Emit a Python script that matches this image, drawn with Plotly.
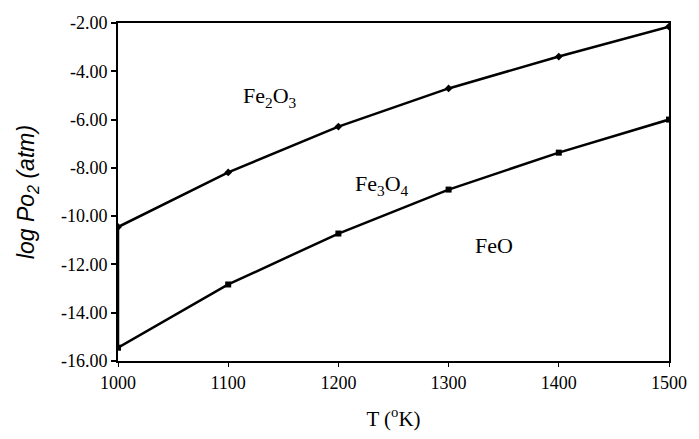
import plotly.graph_objects as go

temps = [1000, 1100, 1200, 1300, 1400, 1500]
fe2o3_fe3o4 = [-10.45, -8.19, -6.29, -4.71, -3.39, -2.15]
fe3o4_feo = [-15.45, -12.83, -10.72, -8.90, -7.37, -6.00]
y_ticks = [-16, -14, -12, -10, -8, -6, -4, -2]
x_ticks = [1000, 1100, 1200, 1300, 1400, 1500]
phase_labels = ["Fe<sub>2</sub>O<sub>3</sub>", "Fe<sub>3</sub>O<sub>4</sub>", "FeO"]
phase_x = [1138, 1240, 1341]
phase_y = [-5.05, -8.70, -11.20]

serif = "Liberation Serif, Times New Roman, serif"

fig = go.Figure()
fig.add_trace(go.Scatter(x=temps, y=fe2o3_fe3o4, mode="lines+markers",
                         line=dict(color="black", width=2.5),
                         marker=dict(symbol="diamond", size=6, color="black"),
                         showlegend=False))
fig.add_trace(go.Scatter(x=temps, y=fe3o4_feo, mode="lines+markers",
                         line=dict(color="black", width=2.5),
                         marker=dict(symbol="square", size=6, color="black"),
                         showlegend=False))
# phase boundary at 1000 K (left edge)
fig.add_trace(go.Scatter(x=[temps[0], temps[0]], y=[fe2o3_fe3o4[0], fe3o4_feo[0]], mode="lines",
                         line=dict(color="black", width=2.5), showlegend=False))

for t, x, y in zip(phase_labels, phase_x, phase_y):
    fig.add_annotation(x=x, y=y, text=t, showarrow=False,
                       font=dict(family=serif, size=22, color="black"))

fig.update_layout(
    width=699, height=439,
    margin=dict(l=118, r=23, t=23, b=78),
    paper_bgcolor="white", plot_bgcolor="white",
    font=dict(family=serif, size=18, color="black"),
)
fig.update_xaxes(range=[1000, 1500], tickvals=x_ticks, ticktext=[str(v) for v in x_ticks],
                 showgrid=False, zeroline=False, showline=True, linecolor="black", linewidth=2,
                 mirror=True, ticks="outside", ticklen=4, tickwidth=1, tickcolor="black",
                 tickfont=dict(family=serif, size=18),
                 title=dict(text="T (<sup>o</sup>K)", font=dict(family=serif, size=21), standoff=20))
fig.update_yaxes(range=[-16, -2], tickvals=y_ticks, ticktext=[f"{v:.2f}" for v in y_ticks],
                 showgrid=False, zeroline=False, showline=True, linecolor="black", linewidth=2,
                 mirror=True, ticks="outside", ticklen=5, tickwidth=1.5, tickcolor="black",
                 tickfont=dict(family=serif, size=18),
                 title=dict(text="log Po<sub>2</sub> (atm)",
                            font=dict(family="Liberation Sans, Arial, sans-serif", size=23,
                                      style="italic"), standoff=20))

fig.write_html("out.html")
